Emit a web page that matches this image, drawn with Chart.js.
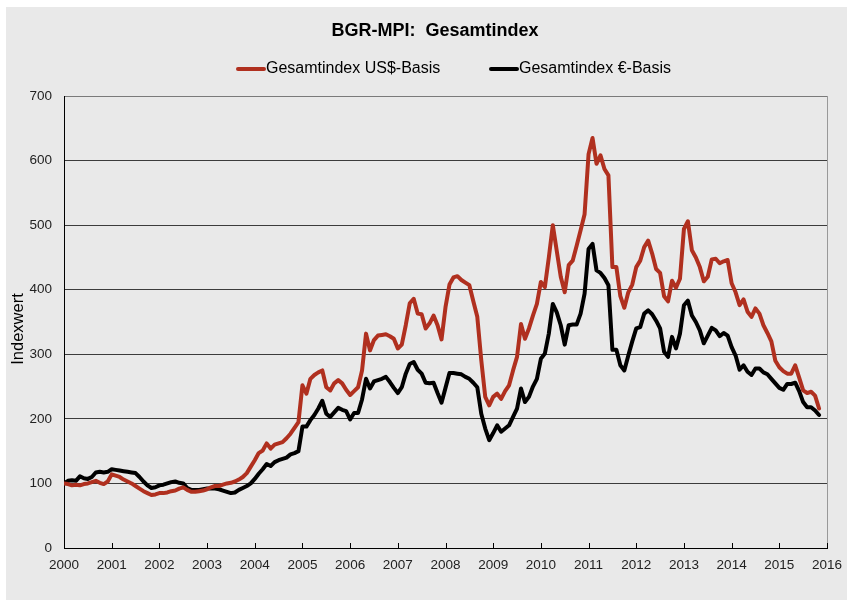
<html>
    <head>
        <style>
            body { margin: 0; background: #ffffff; }
            #panel { position: absolute; left: 6px; top: 7px; width: 841px; height: 593px; background: #e9e9e9; }
        </style>
        <script src="https://cdn.jsdelivr.net/npm/chart.js"></script>
    </head>
    <body>
        <div id="panel">
            <canvas id="chart" width="841" height="593"></canvas>
        </div>
        <script>
            var chartTitle = 'BGR-MPI:  Gesamtindex';
            var yTitle = 'Indexwert';
            var seriesNames = ['Gesamtindex US$-Basis', 'Gesamtindex \u20AC-Basis'];
            var seriesColors = ['#b0301f', '#000000'];
            var startYear = 2000;
            var endYear = 2016;
            var yTicks = [0, 100, 200, 300, 400, 500, 600, 700];

            // monthly values, Jan 2000 .. Nov 2015
            var usdIndex = [
                100, 99, 97, 98, 97, 99, 100, 102, 104, 101, 99, 103,
                114, 112, 110, 106, 103, 100, 96, 92, 88, 85, 82, 83,
                85, 85, 86, 88, 89, 92, 94, 90, 87, 87, 88, 89,
                91, 94, 96, 96, 98, 100, 101, 103, 106, 110, 116, 126,
                136, 147, 151, 162, 154, 160, 162, 164, 170, 177, 186, 195,
                252, 239, 262, 268, 272, 275, 249, 244, 255, 260, 255, 245,
                237, 243, 249, 275, 332, 306, 322, 329, 330, 331, 328, 324,
                309, 315, 345, 379, 386, 363, 362, 340, 348, 360, 345, 323,
                373, 408, 419, 421, 415, 411, 407, 382, 358, 291, 234, 221,
                234, 239, 231, 243, 252, 275, 296, 347, 324, 340, 360, 378,
                412, 404, 450, 500, 460, 420, 396, 438, 445, 468, 492, 517,
                610, 635, 595, 608, 587, 577, 435, 435, 390, 372, 396, 408,
                435, 445, 466, 476, 456, 432, 426, 390, 382, 414, 403, 417,
                494, 506, 461, 450, 435, 413, 420, 447, 448, 441, 444, 446,
                410, 396, 376, 385, 366, 358, 371, 363, 345, 333, 320, 290,
                280, 274, 270, 270, 283, 264, 244, 240, 242, 236, 216
            ];
            var eurIndex = [
                100, 104, 105, 104, 111, 108, 107, 110, 117, 118, 117, 118,
                122, 121, 120, 119, 118, 117, 116, 110, 103, 97, 93, 94,
                97, 98, 100, 102, 103, 101, 100, 93, 90, 90, 90, 91,
                92, 92, 92, 91, 89, 87, 85, 86, 90, 93, 96, 100,
                107, 115, 122, 130, 127, 133, 136, 138, 140, 145, 147, 150,
                188, 188, 198, 206, 216, 228, 208, 203, 210, 217, 214, 212,
                199, 209, 209, 230, 262, 247, 258, 260, 262, 265, 257, 248,
                240, 249, 270, 285, 288, 276, 270, 256, 255, 256, 240, 225,
                248, 271, 271, 270, 269, 265, 262, 256, 249, 208, 185, 167,
                178, 190, 180, 185, 190, 203, 216, 247, 226, 234, 250, 262,
                293, 301, 332, 378, 365, 345, 315, 345, 346, 346, 363, 394,
                463, 471, 430, 426, 418, 407, 307, 307, 283, 275, 298, 320,
                340, 342, 363, 368, 362, 352, 340, 304, 296, 327, 309, 332,
                376, 383, 360, 350, 337, 317, 329, 341, 337, 328, 333, 329,
                311, 298, 276, 283, 273, 268, 278, 278, 272, 269, 262, 255,
                248, 245, 254, 254, 256, 243, 226, 218, 218, 213, 206
            ];

            var fontName = "'Liberation Sans', Arial, sans-serif";

            function toPoints(values) {
                return values.map(function(v, i) {
                    return { x: startYear + i / 12, y: v };
                });
            }

            // title, legend, axis title, inner x ticks and frame line
            var decorations = {
                id: 'decorations',
                afterDraw: function(chart) {
                    var ctx = chart.ctx;
                    var area = chart.chartArea;
                    var xScale = chart.scales.x;
                    ctx.save();

                    ctx.strokeStyle = '#999999';
                    ctx.lineWidth = 1;
                    ctx.beginPath();
                    ctx.moveTo(Math.round(area.right) + 0.5, area.top);
                    ctx.lineTo(Math.round(area.right) + 0.5, area.bottom);
                    ctx.stroke();

                    ctx.strokeStyle = '#000000';
                    ctx.beginPath();
                    xScale.ticks.forEach(function(t) {
                        var px = Math.round(xScale.getPixelForValue(t.value)) + 0.5;
                        ctx.moveTo(px, area.bottom);
                        ctx.lineTo(px, area.bottom - 5);
                    });
                    ctx.stroke();

                    ctx.fillStyle = '#000000';
                    ctx.textAlign = 'center';
                    ctx.textBaseline = 'middle';
                    ctx.font = 'bold 18px ' + fontName;
                    ctx.fillText(chartTitle, 429, 24);

                    ctx.save();
                    ctx.translate(12, 322);
                    ctx.rotate(-Math.PI / 2);
                    ctx.font = '16.5px ' + fontName;
                    ctx.fillText(yTitle, 0, 0);
                    ctx.restore();

                    var legendX = [232, 485];
                    ctx.font = '16px ' + fontName;
                    ctx.textAlign = 'left';
                    for (var i = 0; i < seriesNames.length; i++) {
                        ctx.strokeStyle = seriesColors[i];
                        ctx.lineWidth = 4;
                        ctx.lineCap = 'round';
                        ctx.beginPath();
                        ctx.moveTo(legendX[i], 62);
                        ctx.lineTo(legendX[i] + 26, 62);
                        ctx.stroke();
                        ctx.fillText(seriesNames[i], legendX[i] + 28, 62);
                    }
                    ctx.restore();
                }
            };

            var ctx = document.getElementById('chart').getContext('2d');
            var myChart = new Chart(ctx, {
                type: 'line',
                data: {
                    datasets: [{
                        label: seriesNames[0],
                        data: toPoints(usdIndex),
                        borderColor: seriesColors[0],
                        borderWidth: 4
                    }, {
                        label: seriesNames[1],
                        data: toPoints(eurIndex),
                        borderColor: seriesColors[1],
                        borderWidth: 4
                    }]
                },
                options: {
                    responsive: false,
                    animation: false,
                    elements: {
                        point: { radius: 0 },
                        line: { tension: 0, borderJoinStyle: 'round', borderCapStyle: 'round' }
                    },
                    layout: { padding: { left: 0, top: 89, right: 20, bottom: 0 } },
                    plugins: {
                        legend: { display: false },
                        title: { display: false },
                        tooltip: { enabled: false }
                    },
                    scales: {
                        x: {
                            type: 'linear',
                            min: startYear,
                            max: endYear,
                            afterFit: function(scale) {
                                scale.height = 52;
                                scale.paddingLeft = 0;
                                scale.paddingRight = 0;
                            },
                            ticks: {
                                stepSize: 1,
                                padding: 9,
                                color: '#222222',
                                font: { family: fontName, size: 13.5 },
                                maxRotation: 0,
                                autoSkip: false,
                                callback: function(v) { return String(v); }
                            },
                            grid: { display: false, drawTicks: false },
                            border: { display: true, color: '#000000', width: 1 }
                        },
                        y: {
                            min: yTicks[0],
                            max: yTicks[yTicks.length - 1],
                            afterFit: function(scale) { scale.width = 58; },
                            afterBuildTicks: function(scale) {
                                scale.ticks = yTicks.map(function(v) { return { value: v }; });
                            },
                            ticks: {
                                padding: 12,
                                color: '#222222',
                                font: { family: fontName, size: 13.5 }
                            },
                            grid: {
                                drawTicks: false,
                                color: function(c) { return c.tick && c.tick.value === 700 ? '#7a7a7a' : '#3c3c3c'; },
                                lineWidth: 1
                            },
                            border: { display: true, color: '#000000', width: 1 }
                        }
                    }
                },
                plugins: [decorations]
            });
        </script>
    </body>
</html>
